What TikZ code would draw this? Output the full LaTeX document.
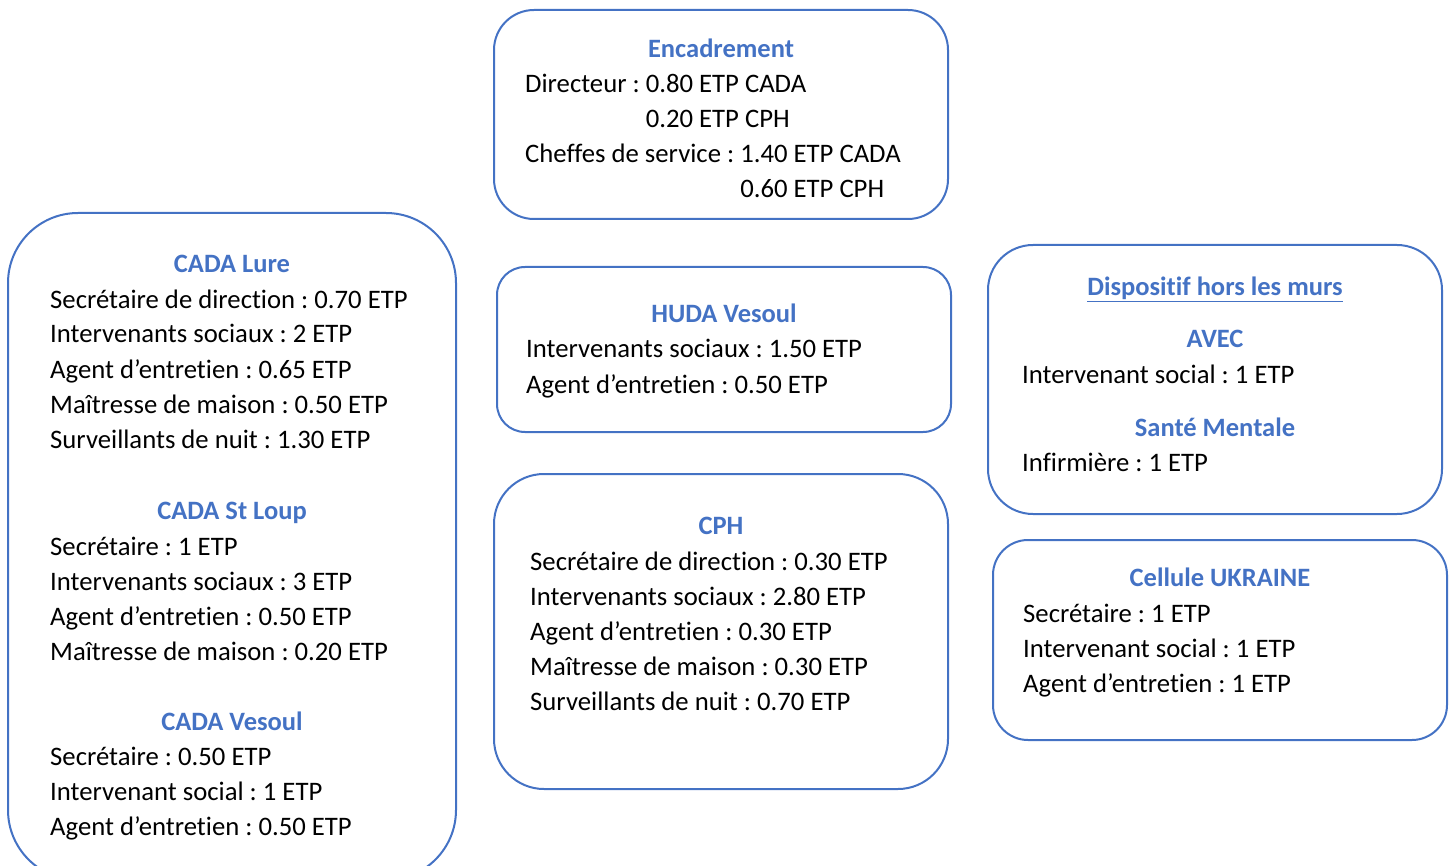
\documentclass[tikz,border=0pt]{standalone}
\usepackage{fontspec}
\setmainfont{Carlito}[Ligatures=NoCommon]
\definecolor{oblue}{HTML}{4472C4}
\tikzset{
  box/.style={draw=oblue, line width=2pt, inner sep=0pt},
  ttl/.style={font=\fontsize{26.5}{32}\selectfont\bfseries\frenchspacing, text=oblue, anchor=base, inner sep=0pt},
  ln/.style={font=\fontsize{26.7}{32}\selectfont\frenchspacing, anchor=base west, inner sep=0pt}
}
\begin{document}
\begin{tikzpicture}[x=1pt,y=-1pt]
\useasboundingbox (0,0) rectangle (1453,866);
% boxes
\node[box, rounded corners=40pt, minimum width=454pt, minimum height=209pt] (enc) at (721,114.5) {};
\node[box, rounded corners=70pt, minimum width=448pt, minimum height=667pt] (cada) at (232,546.5) {};
\node[box, rounded corners=28pt, minimum width=454pt, minimum height=165pt] (huda) at (724,349.5) {};
\node[box, rounded corners=50pt, minimum width=454pt, minimum height=315pt] (cph) at (721,631.5) {};
\node[box, rounded corners=45pt, minimum width=454pt, minimum height=269pt] (hors) at (1215,379.5) {};
\node[box, rounded corners=35pt, minimum width=454pt, minimum height=200pt] (ukr) at (1220,640) {};
% Encadrement
\node[ttl] (encT) at (721,58) {Encadrement};
\node[ln] (enc1) at (525,93) {Directeur : 0.80 ETP CADA};
\node[ln] (enc2) at (525,128) {\phantom{Directeur : }0.20 ETP CPH};
\node[ln] (enc3) at (525,163) {Cheffes de service : 1.40 ETP CADA};
\node[ln] (enc4) at (525,198) {\phantom{Cheffes de service : }0.60 ETP CPH};
% CADA Lure
\node[ttl] (lureT) at (232,273) {CADA Lure};
\node[ln] (lure1) at (50,309) {Secrétaire de direction : 0.70 ETP};
\node[ln] (lure2) at (50,343) {Intervenants sociaux : 2 ETP};
\node[ln] (lure3) at (50,378) {Agent d’entretien : 0.65 ETP};
\node[ln] (lure4) at (50,413) {Maîtresse de maison : 0.50 ETP};
\node[ln] (lure5) at (50,448) {Surveillants de nuit : 1.30 ETP};
% CADA St Loup
\node[ttl] (loupT) at (232,519) {CADA St Loup};
\node[ln] (loup1) at (50,555) {Secrétaire : 1 ETP};
\node[ln] (loup2) at (50,590) {Intervenants sociaux : 3 ETP};
\node[ln] (loup3) at (50,625) {Agent d’entretien : 0.50 ETP};
\node[ln] (loup4) at (50,660) {Maîtresse de maison : 0.20 ETP};
% CADA Vesoul
\node[ttl] (vesT) at (232,730) {CADA Vesoul};
\node[ln] (ves1) at (50,765) {Secrétaire : 0.50 ETP};
\node[ln] (ves2) at (50,800) {Intervenant social : 1 ETP};
\node[ln] (ves3) at (50,835) {Agent d’entretien : 0.50 ETP};
% HUDA
\node[ttl] (hudaT) at (724,323) {HUDA Vesoul};
\node[ln] (huda1) at (526,358) {Intervenants sociaux : 1.50 ETP};
\node[ln] (huda2) at (526,393) {Agent d’entretien : 0.50 ETP};
% CPH
\node[ttl] (cphT) at (721,534) {CPH};
\node[ln] (cph1) at (530,570) {Secrétaire de direction : 0.30 ETP};
\node[ln] (cph2) at (530,605) {Intervenants sociaux : 2.80 ETP};
\node[ln] (cph3) at (530,640) {Agent d’entretien : 0.30 ETP};
\node[ln] (cph4) at (530,675) {Maîtresse de maison : 0.30 ETP};
\node[ln] (cph5) at (530,710) {Surveillants de nuit : 0.70 ETP};
% Dispositif hors les murs
\node[ttl] (horsT) at (1215,296) {\underline{Dispositif hors les murs}};
\node[ttl] (avecT) at (1215,348) {AVEC};
\node[ln] (avec1) at (1022,383) {Intervenant social : 1 ETP};
\node[ttl] (santeT) at (1215,436) {Santé Mentale};
\node[ln] (sante1) at (1022,471) {Infirmière : 1 ETP};
% Ukraine
\node[ttl] (ukrT) at (1220,586) {Cellule UKRAINE};
\node[ln] (ukr1) at (1023,622) {Secrétaire : 1 ETP};
\node[ln] (ukr2) at (1023,657) {Intervenant social : 1 ETP};
\node[ln] (ukr3) at (1023,692) {Agent d’entretien : 1 ETP};
\end{tikzpicture}
\end{document}
